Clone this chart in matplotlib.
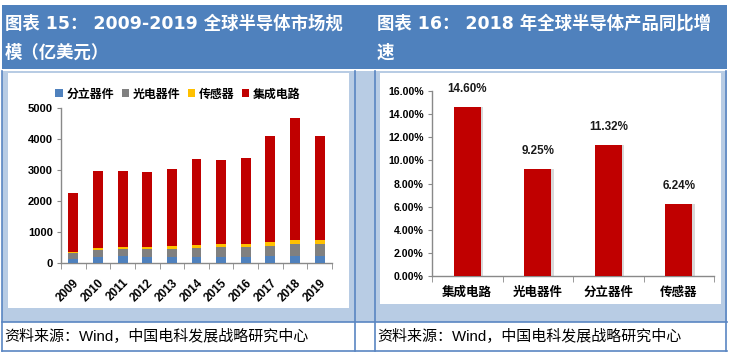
import matplotlib
matplotlib.use("Agg")
import matplotlib.pyplot as plt
from matplotlib.patches import Rectangle
import numpy as np

# ---------------- data ----------------
years = ["2009", "2010", "2011", "2012", "2013", "2014", "2015", "2016", "2017", "2018", "2019"]
discrete = [140, 200, 230, 200, 200, 200, 200, 200, 230, 240, 240]      # 分立器件
opto = [190, 220, 220, 240, 250, 280, 310, 310, 330, 380, 380]          # 光电器件
sensor = [30, 70, 70, 70, 100, 100, 100, 100, 120, 130, 130]            # 传感器
ic = [1900, 2480, 2460, 2410, 2490, 2780, 2720, 2790, 3430, 3940, 3360] # 集成电路
series_names = ["分立器件", "光电器件", "传感器", "集成电路"]
left_yticks = [0, 1000, 2000, 3000, 4000, 5000]

products = ["集成电路", "光电器件", "分立器件", "传感器"]
growth = [0.1460, 0.0925, 0.1132, 0.0624]
right_yticks = [0.0, 0.02, 0.04, 0.06, 0.08, 0.10, 0.12, 0.14, 0.16]

title_left = ["图表 15： 2009-2019 全球半导体市场规", "模（亿美元）"]
title_right = ["图表 16： 2018 年全球半导体产品同比增", "速"]
source_text = "资料来源：Wind，中国电科发展战略研究中心"

# ---------------- style ----------------
W, H = 729, 354
C_TITLE = "#4F81BD"
C_PANEL = "#B8CCE4"
C_LINE = "#5A86C2"
colors = ["#4F81BD", "#808080", "#FFC000", "#C00000"]
CJK = ["DejaVu Sans", "Noto Sans CJK SC"]
NUM = ["Liberation Sans", "DejaVu Sans"]
FOOT = ["Liberation Sans", "Noto Sans CJK SC"]

fig = plt.figure(figsize=(W / 100, H / 100), dpi=100)
fig.patch.set_facecolor("white")

bg = fig.add_axes([0, 0, 1, 1])
bg.set_xlim(0, W)
bg.set_ylim(H, 0)
bg.axis("off")
bg.set_zorder(-5)

def rect(x0, y0, x1, y1, color, **kw):
    bg.add_patch(Rectangle((x0, y0), x1 - x0, y1 - y0, facecolor=color, edgecolor="none", **kw))

# title band
rect(2, 5, 727, 69, C_TITLE)
# light-blue panel row
rect(2, 71, 727, 322, C_PANEL)
# white chart areas
rect(8, 73, 349, 308, "white")
rect(380, 73, 721, 304, "white")
# footer white
rect(2, 322, 727, 350, "white")
# lines
for x in [2.5, 355, 375, 726.5]:
    bg.plot([x, x], [71, 350.5], color=C_LINE, lw=1.2)
for y in [322, 350.5]:
    bg.plot([2, 727], [y, y], color=C_LINE, lw=1.2)

# titles
for i, t in enumerate(title_left):
    bg.text(5, 24 + 29 * i, t, color="white", fontsize=12.5, fontweight="bold",
            family=CJK, va="center", ha="left")
for i, t in enumerate(title_right):
    bg.text(377, 24 + 29 * i, t, color="white", fontsize=12.5, fontweight="bold",
            family=CJK, va="center", ha="left")
# footers
bg.text(4, 336.5, source_text, fontsize=10.8, family=FOOT, va="center", ha="left", color="black")
bg.text(377, 336.5, source_text, fontsize=10.8, family=FOOT, va="center", ha="left", color="black")

def px_axes(x0, y0, x1, y1):
    return fig.add_axes([x0 / W, 1 - y1 / H, (x1 - x0) / W, (y1 - y0) / H])

SPINE = "#898989"

# ---------------- left chart ----------------
ax1 = px_axes(61, 108, 332, 263)
x = np.arange(len(years))
bottom = np.zeros(len(years))
handles = []
for vals, name, c in zip([discrete, opto, sensor, ic], series_names, colors):
    b = ax1.bar(x, vals, width=0.4, bottom=bottom, color=c, label=name, zorder=3)
    bottom += np.array(vals)
    handles.append(b)
ax1.set_xlim(-0.5, len(years) - 0.5)
ax1.set_ylim(0, 5000)
ax1.set_yticks(left_yticks)
ax1.set_yticklabels([str(v) for v in left_yticks], fontsize=8, fontweight="bold", family=NUM)
ax1.set_xticks(x)
ax1.set_xticklabels(years, rotation=45, ha="right", va="top", rotation_mode="anchor",
                    fontsize=8.5, fontweight="bold", family=NUM)
ax1.set_xticks(np.arange(-0.5, len(years)), minor=True)
ax1.tick_params(axis="x", which="major", length=0, pad=10)
ax1.tick_params(axis="x", which="minor", length=4, color=SPINE, direction="out")
ax1.tick_params(axis="y", length=3, color=SPINE, pad=3)
for s in ["top", "right"]:
    ax1.spines[s].set_visible(False)
for s in ["left", "bottom"]:
    ax1.spines[s].set_color(SPINE)
    ax1.spines[s].set_linewidth(1)
ax1.patch.set_alpha(0)
leg = ax1.legend(handles=handles, labels=series_names, loc="center",
                 bbox_to_anchor=((178 - 61) / 271, 1 + (108 - 94) / 155),
                 ncol=4, frameon=False, handlelength=0.65, handleheight=0.65,
                 handletextpad=0.3, columnspacing=0.6, borderaxespad=0,
                 prop={"family": CJK[::-1], "size": 8.6, "weight": "bold"})

# ---------------- right chart ----------------
ax2 = px_axes(432, 91, 714, 276)
x2 = np.arange(len(products))
ax2.bar(x2 + 0.03, growth, width=0.39, color="#D9D9D9", zorder=2)
ax2.bar(x2, growth, width=0.39, color="#C00000", zorder=3)
for xi, v in zip(x2, growth):
    ax2.annotate(f"{v * 100:.2f}%", (xi, v), xytext=(0, 18), textcoords="offset pixels",
                 ha="center", va="center", fontsize=8.4, fontweight="bold", family=NUM,
                 color="#1a1a1a")
ax2.set_xlim(-0.5, len(products) - 0.5)
ax2.set_ylim(0, 0.16)
ax2.set_yticks(right_yticks)
ax2.set_yticklabels([f"{v * 100:.2f}%" for v in right_yticks], fontsize=7.6,
                    fontweight="bold", family=NUM)
ax2.set_xticks(x2)
ax2.set_xticklabels(products, fontsize=9, fontweight="bold", family=["Noto Sans CJK SC"])
ax2.set_xticks(np.arange(-0.5, len(products)), minor=True)
ax2.tick_params(axis="x", which="major", length=0, pad=7)
ax2.tick_params(axis="x", which="minor", length=4, color=SPINE, direction="out")
ax2.tick_params(axis="y", length=3, color=SPINE, pad=3)
for s in ["top", "right"]:
    ax2.spines[s].set_visible(False)
for s in ["left", "bottom"]:
    ax2.spines[s].set_color(SPINE)
    ax2.spines[s].set_linewidth(1)
ax2.patch.set_alpha(0)

fig.savefig("out.png", dpi=100, facecolor=fig.get_facecolor())
